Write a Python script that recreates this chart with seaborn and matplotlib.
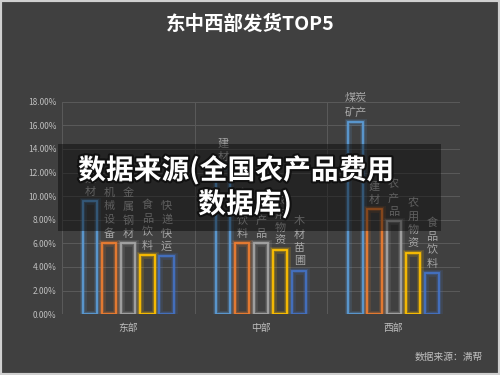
import matplotlib
matplotlib.use("Agg")
import matplotlib.pyplot as plt
import matplotlib.patheffects as pe
from matplotlib.patches import Rectangle
from matplotlib.ticker import FuncFormatter
import seaborn as sns
import pandas as pd

regions = ["东部", "中部", "西部"]
ranks = ["1", "2", "3", "4", "5"]
products = [
    ["建材", "机械设备", "金属钢材", "食品饮料", "快递快运"],
    ["建材", "食品饮料", "农产品", "农用物资", "木材苗圃"],
    ["煤炭矿产", "建材", "农产品", "农用物资", "食品饮料"],
]
values = [
    [0.096, 0.060, 0.060, 0.050, 0.049],
    [0.125, 0.060, 0.060, 0.054, 0.037],
    [0.163, 0.089, 0.079, 0.052, 0.035],
]
colors = ["#5B9BD5", "#ED7D31", "#A5A5A5", "#FFC000", "#4472C4"]

rows = []
for r, prods, vals in zip(regions, products, values):
    for k, p, v in zip(ranks, prods, vals):
        rows.append({"region": r, "rank": k, "product": p, "value": v})
df = pd.DataFrame(rows)

sns.set_theme(style="dark")
plt.rcParams["font.family"] = ["Noto Sans CJK SC", "DejaVu Sans"]
bg = "#404040"
fig = plt.figure(figsize=(5, 3.75), dpi=100, facecolor=bg)
ax = fig.add_axes([0.124, 0.162, 0.796, 0.567])
ax.set_facecolor(bg)

sns.barplot(data=df, x="region", y="value", hue="rank", order=regions,
            hue_order=ranks, palette=colors, width=0.72, gap=0.26,
            legend=False, ax=ax)

for cont, col in zip(ax.containers, colors):
    for bar in cont:
        bar.set_facecolor("none")
        bar.set_edgecolor(col)
        bar.set_linewidth(1.3)
        bar.set_path_effects([
            pe.Stroke(linewidth=5, foreground=col, alpha=0.14),
            pe.Stroke(linewidth=3, foreground=col, alpha=0.28),
            pe.Normal(),
        ])

# labels above bars
for ci, cont in enumerate(ax.containers):
    for ri, bar in enumerate(cont):
        name = products[ri][ci]
        x = bar.get_x() + bar.get_width() / 2
        h = bar.get_height()
        if name == "煤炭矿产":
            txt = "煤炭\n矿产"
        else:
            txt = "\n".join(list(name))
        ax.annotate(txt, (x, h), xytext=(0, 3), textcoords="offset points",
                    ha="center", va="bottom", fontsize=8, color="#a6a6a6",
                    linespacing=1.42)

ax.set_ylim(0, 0.18)
ax.set_xlim(-0.5, 2.5)
ax.set_yticks([i * 0.02 for i in range(10)])
ax.yaxis.set_major_formatter(FuncFormatter(lambda v, p: f"{v*100:.2f}%"))
ax.tick_params(axis="y", colors="#bfbfbf", labelsize=6, length=0, pad=4)
ax.tick_params(axis="x", colors="#bfbfbf", labelsize=7, length=0, pad=6)
ax.set_xlabel("")
ax.set_ylabel("")
ax.grid(axis="y", color="#5a5a5a", linewidth=0.7)
ax.set_axisbelow(True)
for xv in [-0.5, 0.5, 1.5, 2.5]:
    ax.axvline(xv, color="#5a5a5a", linewidth=0.7, zorder=0)
for s in ax.spines.values():
    s.set_visible(False)

fig.text(0.5, 0.936, "东中西部发货TOP5", ha="center", va="center",
         fontsize=14, fontweight="bold", color="white")
fig.text(0.966, 0.048, "数据来源：满帮", ha="right", va="center",
         fontsize=7, color="#bfbfbf")

# watermark overlay
fig.patches.append(Rectangle((0.116, 1 - 231 / 375), (441 - 58) / 500, 87 / 375,
                             transform=fig.transFigure, facecolor="black",
                             alpha=0.42, edgecolor="none", zorder=5))
wm_fx = [pe.withStroke(linewidth=3, foreground="#111111")]
fig.text(0.472, 1 - 170 / 375, "数据来源(全国农产品费用", ha="center", va="center",
         fontsize=20, fontweight="bold", color="white", zorder=6,
         path_effects=wm_fx)
fig.text(0.49, 1 - 204 / 375, "数据库)", ha="center", va="center",
         fontsize=20, fontweight="bold", color="white", zorder=6,
         path_effects=wm_fx)

# light border
fig.patches.append(Rectangle((0, 0), 1, 1, transform=fig.transFigure,
                             facecolor="none", edgecolor="#d0d0d0",
                             linewidth=3, zorder=10))

fig.savefig("out.png", dpi=100, facecolor=bg)
